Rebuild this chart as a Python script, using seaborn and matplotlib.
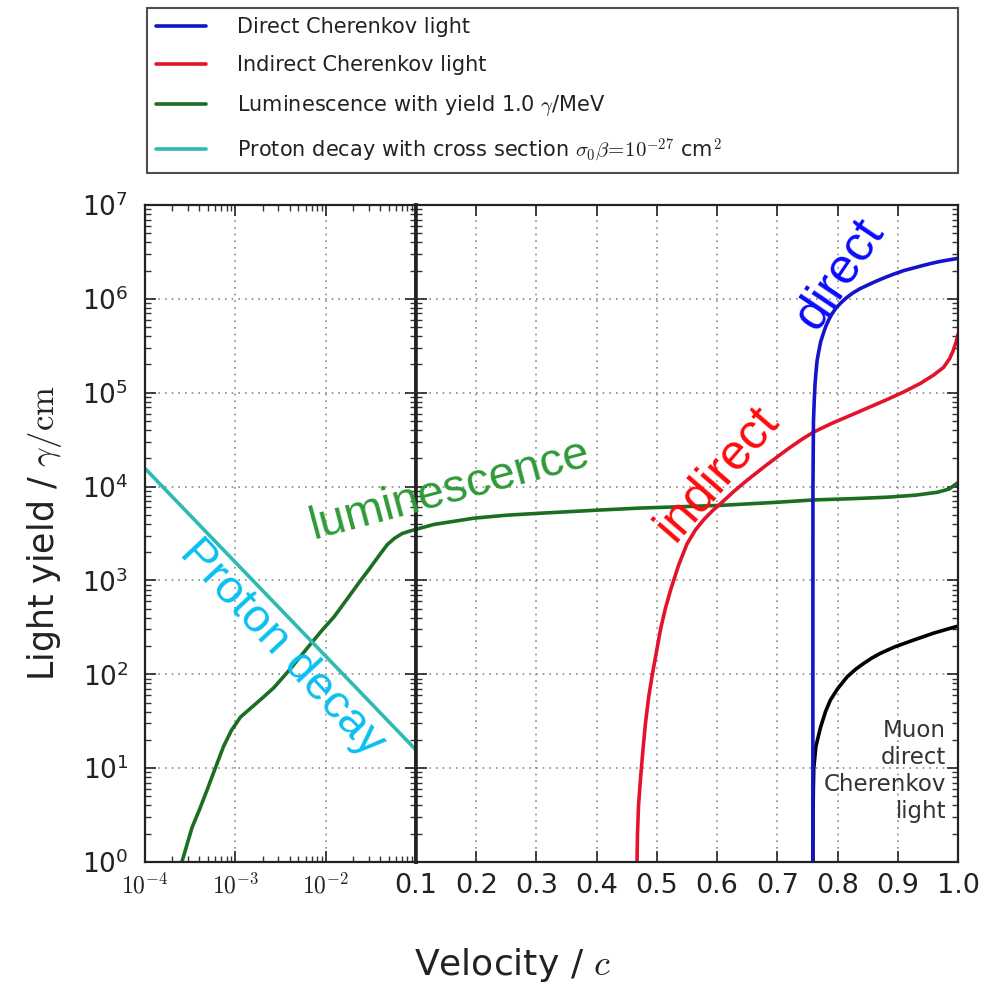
import matplotlib
matplotlib.use("Agg")
import matplotlib.pyplot as plt
import seaborn as sns
from matplotlib.lines import Line2D
from matplotlib.ticker import FixedLocator, LogLocator, NullFormatter, NullLocator

# ---------------- data ----------------
beta_direct = [0.7590, 0.75903, 0.75915, 0.7600, 0.7612, 0.7625, 0.7640, 0.7660,
               0.7690, 0.7720, 0.7760, 0.7800, 0.7850, 0.7900, 0.7970, 0.8050,
               0.8150, 0.8250, 0.8370, 0.8500, 0.8650, 0.8800, 0.8950, 0.9100,
               0.9250, 0.9400, 0.9550, 0.9700, 0.9850, 1.0000]
yield_direct = [1.0, 1.0e2, 1.0e4, 5.0e4, 8.0e4, 1.2e5, 1.6e5, 2.2e5,
                2.8e5, 3.5e5, 4.2e5, 5.0e5, 5.9e5, 6.8e5, 7.9e5, 9.0e5,
                1.03e6, 1.15e6, 1.28e6, 1.4e6, 1.55e6, 1.7e6, 1.85e6, 2.0e6,
                2.12e6, 2.25e6, 2.38e6, 2.5e6, 2.6e6, 2.7e6]

beta_indirect = [0.4670, 0.4678, 0.4695, 0.4730, 0.4770, 0.4810, 0.4865, 0.4925,
                 0.4990, 0.5060, 0.5140, 0.5230, 0.5360, 0.5500, 0.5640, 0.5780,
                 0.5920, 0.6060, 0.6280, 0.6500, 0.6800, 0.7170, 0.7400, 0.7600,
                 0.7900, 0.8260, 0.8550, 0.8830, 0.9100, 0.9380, 0.9600, 0.9760,
                 0.9860, 0.9920, 0.9970, 1.0000]
yield_indirect = [1.0, 2.0, 4.0, 8.0, 16.0, 30.0, 58.0, 100.0,
                  170.0, 300.0, 500.0, 800.0, 1450.0, 2450.0, 3450.0, 4450.0,
                  5500.0, 6600.0, 8900.0, 1.17e4, 1.66e4, 2.5e4, 3.16e4, 3.8e4,
                  4.7e4, 5.9e4, 7.1e4, 8.5e4, 1.02e5, 1.26e5, 1.55e5, 1.86e5,
                  2.3e5, 2.8e5, 3.5e5, 4.2e5]

beta_lum = [2.56e-4, 2.9e-4, 3.3e-4, 4.0e-4, 4.85e-4, 6.0e-4, 7.4e-4, 9.0e-4,
            1.14e-3, 1.5e-3, 2.0e-3, 2.67e-3, 4.0e-3, 6.25e-3, 9.0e-3, 1.24e-2,
            1.7e-2, 2.25e-2, 3.0e-2, 4.08e-2, 4.8e-2, 5.75e-2, 7.0e-2, 8.5e-2,
            0.1, 0.13, 0.196, 0.25, 0.307, 0.40, 0.473, 0.606,
            0.70, 0.76, 0.83, 0.883, 0.93, 0.966, 0.985, 1.0]
yield_lum = [1.0, 1.5, 2.3, 3.6, 5.8, 10.0, 17.0, 25.0,
             35.0, 44.0, 56.0, 72.0, 112.0, 190.0, 290.0, 410.0,
             620.0, 900.0, 1300.0, 1950.0, 2400.0, 2800.0, 3150.0, 3350.0,
             3500.0, 3950.0, 4600.0, 4950.0, 5200.0, 5600.0, 5900.0, 6300.0,
             6800.0, 7200.0, 7450.0, 7700.0, 8100.0, 8700.0, 9400.0, 1.1e4]

beta_proton = [1e-4, 1e-3, 1e-2, 1e-1]
yield_proton = [1.56e4, 1.56e3, 156.0, 15.6]

beta_muon = [0.7590, 0.7593, 0.7598, 0.7605, 0.7640, 0.7716, 0.7800, 0.7880,
             0.8000, 0.8160, 0.8300, 0.8430, 0.8570, 0.8710, 0.8950, 0.9260,
             0.9600, 0.9955, 1.0000]
yield_muon = [1.0, 3.0, 6.0, 10.0, 17.0, 27.0, 40.0, 53.0,
              70.0, 94.0, 113.0, 130.0, 149.0, 167.0, 196.0, 231.0,
              275.0, 320.0, 325.0]

legend_labels = ["Direct Cherenkov light",
                 "Indirect Cherenkov light",
                 r"Luminescence with yield 1.0 $\gamma$/MeV",
                 r"Proton decay with cross section $\sigma_0\beta\!=\!10^{-27}$ cm$^2$"]
left_xticks = [1e-4, 1e-3, 1e-2, 1e-1]
left_xticklabels = [r"$10^{-4}$", r"$10^{-3}$", r"$10^{-2}$", ""]
right_xticks = [0.1, 0.2, 0.3, 0.4, 0.5, 0.6, 0.7, 0.8, 0.9, 1.0]
right_xticklabels = ["0.1", "0.2", "0.3", "0.4", "0.5", "0.6", "0.7", "0.8", "0.9", "1.0"]
yticks = [1e0, 1e1, 1e2, 1e3, 1e4, 1e5, 1e6, 1e7]
yticklabels = [r"$10^{%d}$" % k for k in range(8)]

# ---------------- style ----------------
sns.set_style("white")
plt.rcParams["font.family"] = ["DejaVu Sans"]
plt.rcParams["mathtext.fontset"] = "cm"

C_DIRECT = "#1414c8"
C_INDIRECT = "#e3132c"
C_LUM = "#1c6e22"
C_PROTON = "#2dbab0"
C_MUON = "#000000"
LW = 2.6

fig = plt.figure(figsize=(10, 9.84), dpi=100)
axL = fig.add_axes([0.145, 0.124, 0.271, 0.6677])
axR = fig.add_axes([0.416, 0.124, 0.542, 0.6677], sharey=axL)

axL.set_xscale("log")
axL.set_yscale("log")

# left panel (log velocity)
sns.lineplot(x=beta_lum, y=yield_lum, ax=axL, color=C_LUM, lw=LW,
             sort=False, estimator=None, legend=False)
sns.lineplot(x=beta_proton, y=yield_proton, ax=axL, color=C_PROTON, lw=LW,
             sort=False, estimator=None, legend=False)

# right panel (linear velocity)
sns.lineplot(x=beta_lum, y=yield_lum, ax=axR, color=C_LUM, lw=LW,
             sort=False, estimator=None, legend=False)
sns.lineplot(x=beta_indirect, y=yield_indirect, ax=axR, color=C_INDIRECT, lw=LW,
             sort=False, estimator=None, legend=False)
sns.lineplot(x=beta_muon, y=yield_muon, ax=axR, color=C_MUON, lw=LW,
             sort=False, estimator=None, legend=False)
sns.lineplot(x=beta_direct, y=yield_direct, ax=axR, color=C_DIRECT, lw=LW,
             sort=False, estimator=None, legend=False)

axL.set_xlim(1e-4, 1e-1)
axR.set_xlim(0.1, 1.0)
axL.set_ylim(1, 1e7)

# ticks
axL.xaxis.set_major_locator(FixedLocator(left_xticks))
axL.set_xticks(left_xticks, left_xticklabels, fontsize=17, color="#333")
axL.xaxis.set_minor_locator(LogLocator(base=10, subs=range(2, 10), numticks=20))
axL.xaxis.set_minor_formatter(NullFormatter())
axL.set_yticks(yticks, yticklabels, fontsize=19, color="#222",
               math_fontfamily="dejavusans")
axL.yaxis.set_minor_locator(LogLocator(base=10, subs=range(2, 10), numticks=20))
axL.yaxis.set_minor_formatter(NullFormatter())

axR.set_xticks(right_xticks, right_xticklabels, fontsize=19.5, color="#222")
axR.xaxis.set_minor_locator(NullLocator())

for ax in (axL, axR):
    ax.tick_params(which="major", direction="in", length=8, width=1.2,
                   top=True, right=True, bottom=True, left=True, colors="#222",
                   pad=8)
    ax.tick_params(which="minor", direction="in", length=4, width=1.0,
                   top=True, right=True, bottom=True, left=True, colors="#333")
    ax.grid(True, which="major", ls=(0, (1, 3)), color="#8a8a8a", lw=1.2)
    ax.set_xlabel("")
    ax.set_ylabel("")
    for s in ax.spines.values():
        s.set_visible(True)
        s.set_color("#222")
        s.set_linewidth(1.6)
axL.tick_params(axis="y", which="major", pad=12)
axR.tick_params(axis="y", labelleft=False)
axL.spines["right"].set_linewidth(2.6)
axR.spines["left"].set_linewidth(2.6)

# legend
handles = [Line2D([], [], color=c, lw=LW) for c in (C_DIRECT, C_INDIRECT, C_LUM, C_PROTON)]
leg = fig.legend(handles, legend_labels, loc="upper left",
                 bbox_to_anchor=(0.147, 0.833, 0.811, 0.159), mode="expand",
                 borderaxespad=0, frameon=True, fancybox=False, fontsize=15,
                 handlelength=2.4, handletextpad=1.45, labelspacing=0.86,
                 borderpad=0.45)
leg.get_frame().set_edgecolor("#222")
leg.get_frame().set_linewidth(1.5)
for t in leg.get_texts():
    t.set_color("#222")

# axis labels
fig.text(0.513, 1 - 965 / 984, r"Velocity / $c$", fontsize=26, ha="center",
         va="center", color="#222")
fig.text(0.045, 1 - 533 / 984, r"Light yield / $\gamma/\mathrm{cm}$", fontsize=25,
         rotation=90, ha="center", va="center", color="#222")

# in-plot annotations
ann_font = ["Liberation Sans", "DejaVu Sans"]
fig.text(0.450, 1 - 490 / 984, "luminescence", fontsize=34, color="#2f9a38",
         rotation=15, ha="center", va="center", rotation_mode="anchor", family=ann_font)
fig.text(0.282, 1 - 648 / 984, "Proton decay", fontsize=34, color="#08c0f0",
         rotation=-47, ha="center", va="center", rotation_mode="anchor", family=ann_font)
fig.text(0.718, 1 - 474 / 984, "indirect", fontsize=36, color="#ff0a0a",
         rotation=49, ha="center", va="center", rotation_mode="anchor", family=ann_font)
fig.text(0.840, 1 - 274 / 984, "direct", fontsize=36, color="#0a0aff",
         rotation=56, ha="center", va="center", rotation_mode="anchor", family=ann_font)
fig.text(0.946, 1 - 771 / 984, "Muon\ndirect\nCherenkov\nlight", fontsize=16.5,
         color="#333", ha="right", va="center", multialignment="right",
         linespacing=1.22)

fig.savefig("out.png", dpi=100)
